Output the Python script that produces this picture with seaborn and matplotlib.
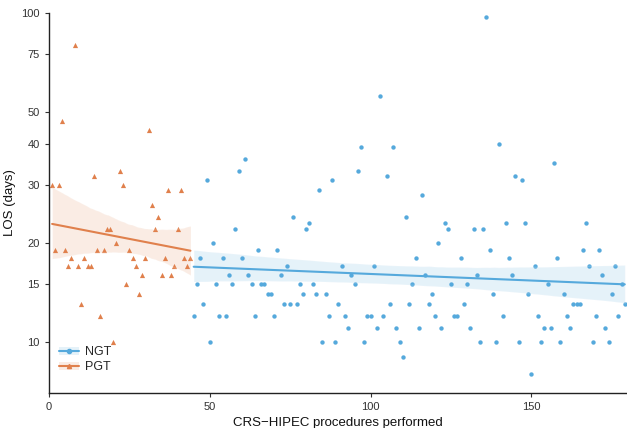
import numpy as np
import pandas as pd
import matplotlib
matplotlib.use("Agg")
import matplotlib.pyplot as plt
import seaborn as sns
from matplotlib.lines import Line2D
from matplotlib.patches import Patch

# ---------------- data ----------------
pgt_x = list(range(1, 45))
pgt_los = [30, 19, 30, 47, 19, 17, 18, 80, 17, 13,
           18, 17, 17, 32, 19, 12, 19, 22, 22, 10,
           20, 33, 30, 15, 19, 18, 17, 14, 16, 18,
           44, 26, 22, 24, 16, 18, 29, 16, 17, 22,
           29, 18, 17, 18]

ngt_x = list(range(45, 180))
ngt_los = [12, 15, 18, 13, 31, 10, 20, 15, 12, 18,
           12, 16, 15, 22, 33, 18, 36, 16, 15, 12,
           19, 15, 15, 14, 14, 12, 19, 16, 13, 17,
           13, 24, 13, 15, 14, 22, 23, 15, 14, 29,
           10, 14, 12, 31, 10, 13, 17, 12, 11, 16,
           15, 33, 39, 10, 12, 12, 17, 11, 56, 12,
           32, 13, 39, 11, 10, 9, 24, 13, 15, 18,
           11, 28, 16, 13, 14, 12, 20, 11, 23, 22,
           15, 12, 12, 18, 13, 15, 11, 22, 16, 10,
           22, 97, 19, 14, 10, 40, 12, 23, 18, 16,
           32, 10, 31, 23, 14, 8, 17, 12, 10, 11,
           15, 11, 35, 18, 10, 14, 12, 11, 13, 13,
           13, 19, 23, 17, 10, 12, 19, 16, 11, 10,
           14, 17, 12, 15, 13]

groups = ["NGT", "PGT"]
colors = {"NGT": "#55A9DC", "PGT": "#E0804C"}
markers = {"NGT": "o", "PGT": "^"}
y_ticks = [10, 15, 20, 30, 40, 50, 75, 100]

df = pd.concat([
    pd.DataFrame({"proc": ngt_x, "los": ngt_los, "group": "NGT"}),
    pd.DataFrame({"proc": pgt_x, "los": pgt_los, "group": "PGT"}),
], ignore_index=True)
df["log_los"] = np.log10(df["los"])

# ---------------- plot ----------------
sns.set_style("ticks")
plt.rcParams["font.family"] = ["Liberation Sans", "DejaVu Sans"]

fig = plt.figure(figsize=(6.27, 4.28), dpi=100)
ax = fig.add_axes([0.078, 0.082, 0.921, 0.888])

for g in ["PGT", "NGT"]:
    sub = df[df["group"] == g]
    sns.regplot(data=sub, x="proc", y="log_los", ax=ax,
                marker=markers[g], color=colors[g], truncate=True,
                n_boot=1000, seed=1,
                scatter_kws={"s": 14 if g == "PGT" else 10, "linewidths": 0,
                             "alpha": 1},
                line_kws={"linewidth": 1.5})

ax.set_xlim(0, 179.5)
ax.set_ylim(np.log10(7), 2)
ax.set_yticks(np.log10(y_ticks))
ax.set_yticklabels([str(v) for v in y_ticks])
ax.set_xticks([0, 50, 100, 150])
ax.tick_params(axis="both", labelsize=8, colors="#333333", length=3,
               width=0.8)
for s in ["left", "bottom"]:
    ax.spines[s].set_color("#222222")
    ax.spines[s].set_linewidth(1.0)
sns.despine(ax=ax)

ax.set_xlabel("CRS\u2212HIPEC procedures performed", fontsize=9.5, color="#111111")
ax.set_ylabel("LOS (days)", fontsize=9.5, color="#111111")

handles = []
for g in groups:
    patch = Patch(facecolor=colors[g], alpha=0.15, edgecolor="none")
    line = Line2D([], [], color=colors[g], marker=markers[g],
                  markersize=3, linewidth=1.5)
    handles.append((patch, line))
ax.legend(handles, groups, loc="lower left", bbox_to_anchor=(0.0, 0.025),
          frameon=False, fontsize=9, handlelength=1.6, handletextpad=0.5,
          labelspacing=0.25, borderpad=0.3)

fig.savefig("out.png", dpi=100)
